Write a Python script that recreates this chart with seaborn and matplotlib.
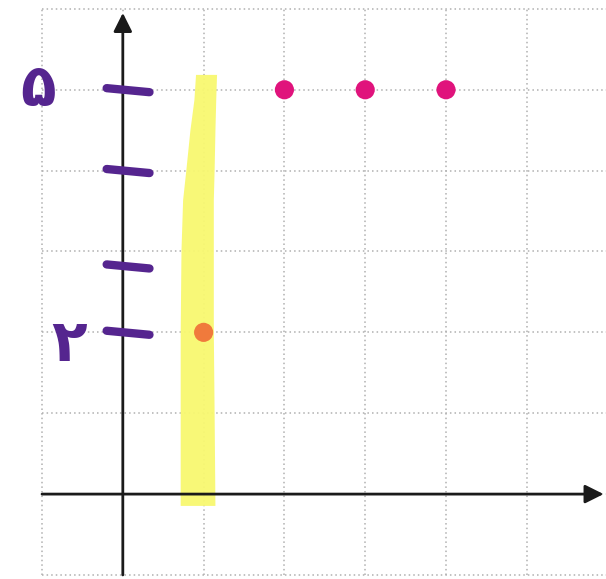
import numpy as np
import pandas as pd
import matplotlib
matplotlib.use("Agg")
import matplotlib.pyplot as plt
import seaborn as sns

# points on the grid
point_x = [1, 2, 3, 4]
point_y = [2, 5, 5, 5]
point_group = ["highlight", "row", "row", "row"]
point_colors = {"highlight": "#f07a3c", "row": "#e0137c"}

# hand drawn marks on the y axis (Persian digits)
dash_levels = [5, 4, 2.82, 2]
digit_labels = ["۵", "۲"]
digit_x = [-1.05, -0.66]
digit_levels = [5.0, 1.85]

# yellow highlighter stroke around x = 1
hl_y = [-0.14, 1.0, 2.0, 3.02, 3.64, 4.01, 4.5, 4.88, 5.19]
hl_left = [0.71, 0.71, 0.71, 0.72, 0.74, 0.78, 0.83, 0.88, 0.9]
hl_right = [1.14, 1.13, 1.12, 1.12, 1.12, 1.13, 1.14, 1.15, 1.16]

grid_vals = list(range(-1, 7))

sns.set_style("white")
fig = plt.figure(figsize=(6.06, 5.79), dpi=100)
ax = fig.add_axes([0, 0, 1, 1])

df = pd.DataFrame({"x": point_x, "y": point_y, "group": point_group})

# dotted grid, only between -1 and 6
ax.vlines(grid_vals, -1, 6, color="#b0b0b0", lw=1.1, ls=(0, (1, 2)), zorder=0)
ax.hlines(grid_vals, -1, 6, color="#b0b0b0", lw=1.1, ls=(0, (1, 2)), zorder=0)

# highlighter
ax.fill_betweenx(hl_y, hl_left, hl_right, color="#f8f870", alpha=0.95, zorder=1, lw=0)

# axes with arrows
arrow_kw = dict(arrowstyle="-|>", color="#1a1a1a", lw=2, mutation_scale=28,
                shrinkA=0, shrinkB=0)
ax.annotate("", xy=(5.95, 0), xytext=(-1, 0), arrowprops=arrow_kw, zorder=2)
ax.annotate("", xy=(0, 5.95), xytext=(0, -1), arrowprops=arrow_kw, zorder=2)

# purple hand drawn ticks
for lv in dash_levels:
    ax.plot([-0.2, 0.33], [lv + 0.02, lv - 0.03], color="#55258f", lw=6,
            solid_capstyle="round", zorder=3)

for lab, xx, lv in zip(digit_labels, digit_x, digit_levels):
    ax.text(xx, lv, lab, color="#55258f", fontsize=42, fontweight="bold",
            ha="center", va="center", family=["DejaVu Sans"], zorder=3)

sns.scatterplot(data=df, x="x", y="y", hue="group", palette=point_colors,
                s=190, edgecolor="none", legend=False, ax=ax, zorder=4)

ax.set_xlim(-1.52, 5.98)
ax.set_ylim(-1.05, 6.11)
ax.set_xticks([])
ax.set_yticks([])
ax.set_xlabel("")
ax.set_ylabel("")
for s in ax.spines.values():
    s.set_visible(False)

fig.savefig("out.png", dpi=100)
